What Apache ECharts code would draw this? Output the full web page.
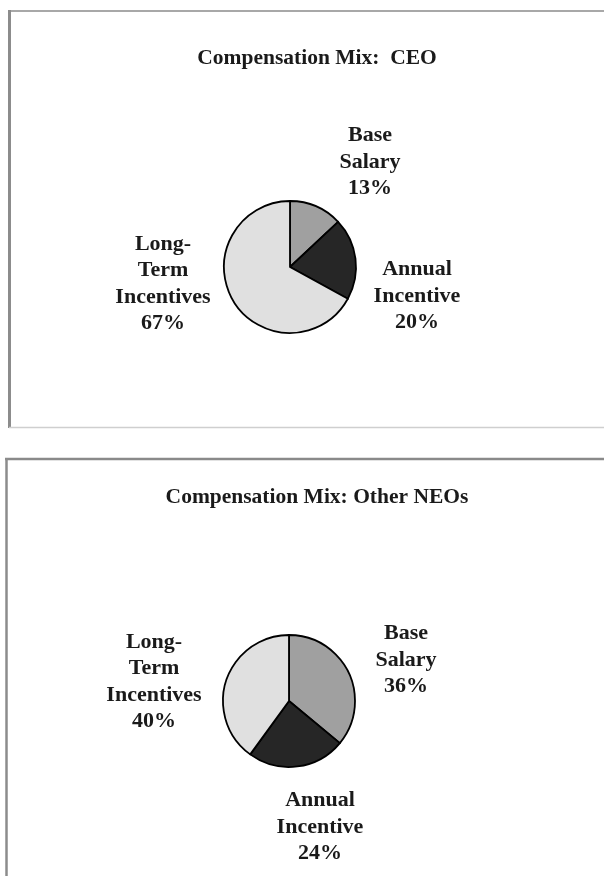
<!DOCTYPE html>
<html>
<head>
<meta charset="utf-8">
<script src="https://cdn.jsdelivr.net/npm/echarts@6/dist/echarts.min.js"></script>
<style>
  html, body { margin: 0; padding: 0; background: #fff; }
  #chart { width: 604px; height: 876px; }
</style>
</head>
<body>
<div id="chart"></div>
<script>
// categories and values
const categories = ['Base\nSalary', 'Annual\nIncentive', 'Long-\nTerm\nIncentives'];
const ceoValues = [13, 20, 67];
const neoValues = [36, 24, 40];
const titles = ['Compensation Mix:  CEO', 'Compensation Mix: Other NEOs'];

const sliceColors = ['#a0a0a0', '#262626', '#e0e0e0'];
const serif = "'Liberation Serif', 'DejaVu Serif', serif";

// label block centres (x, y) per slice, one list per pie
const labelSpots = [
  [[370, 162], [417, 296], [163, 284]],
  [[406, 660], [320, 827], [154, 682]]
];

const makeData = (values) => values.map((v, i) => ({
  name: categories[i],
  value: v,
  itemStyle: { color: sliceColors[i] }
}));

const makePie = (values, center, idx) => ({
  type: 'pie',
  center: center,
  radius: 66,
  startAngle: 90,
  clockwise: true,
  silent: true,
  animation: false,
  data: makeData(values),
  itemStyle: { borderColor: '#000', borderWidth: 1.8 },
  label: {
    show: true,
    position: 'outside',
    formatter: '{b}\n{c}%',
    fontFamily: serif,
    fontWeight: 'bold',
    fontSize: 22,
    lineHeight: 26.5,
    color: '#1a1a1a',
    align: 'center'
  },
  labelLine: { show: false },
  labelLayout: (params) => {
    const p = labelSpots[idx][params.dataIndex];
    return { x: p[0], y: p[1], align: 'center', verticalAlign: 'middle' };
  }
});

const line = (x1, y1, x2, y2, color, w) => ({
  type: 'line',
  shape: { x1, y1, x2, y2 },
  style: { stroke: color, lineWidth: w }
});

const option = {
  backgroundColor: '#fff',
  animation: false,
  title: titles.map((t, i) => ({
    text: t,
    left: 312,
    top: i === 0 ? 41 : 480,
    textAlign: 'center',
    textStyle: {
      fontFamily: serif,
      fontWeight: 'bold',
      fontSize: 21.5,
      lineHeight: 24,
      color: '#1a1a1a'
    }
  })),
  graphic: [
    // top panel frame
    line(8, 11, 604, 11, '#a8a8a8', 2),
    line(9.5, 10, 9.5, 428, '#8c8c8c', 3),
    line(9, 427.5, 604, 427.5, '#cfcfcf', 1.5),
    // bottom panel frame
    line(5, 459, 604, 459, '#8a8a8a', 2.5),
    line(6.5, 458, 6.5, 876, '#8c8c8c', 2.5)
  ],
  series: [
    makePie(ceoValues, [290, 267], 0),
    makePie(neoValues, [289, 701], 1)
  ]
};

const chart = echarts.init(document.getElementById('chart'));
chart.setOption(option);
window.addEventListener('resize', () => chart.resize());
</script>
</body>
</html>
